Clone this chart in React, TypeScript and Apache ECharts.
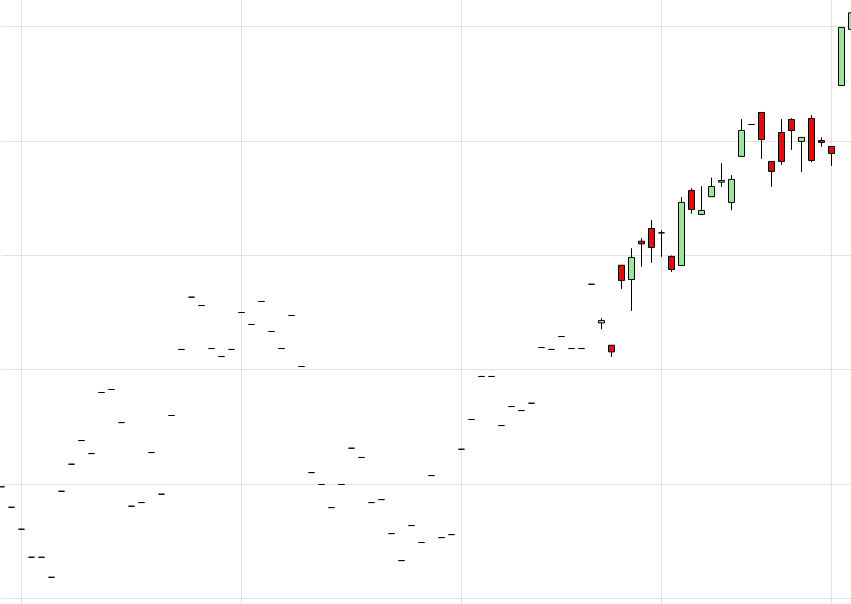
import React, { useEffect, useRef } from "react";
import * as echarts from "echarts";

// Flat (untraded) sessions: open = close = low = high
const flatPrices: number[] = [
  109.77, 107.98, 106.06, 103.61, 103.61, 101.86, 109.38, 111.74, 113.81, 112.67,
  118.01, 118.27, 115.38, 108.07, 108.39, 112.76, 109.12, 116.0, 121.77, 126.34,
  125.61, 121.85, 121.15, 121.77, 125.0, 123.95, 125.96, 123.34, 121.85, 124.74,
  120.28, 111.01, 109.97, 107.95, 109.97, 113.14, 112.33, 108.39, 108.65, 105.68,
  103.32, 106.38, 104.9, 110.75, 105.33, 105.59, 113.05, 115.65, 119.41, 119.41,
  115.12, 116.78, 116.43, 117.07, 121.94, 121.77, 122.9, 121.85, 121.85, 127.47,
];

// Traded sessions: open, close, low, high
const opens: number[] = [
  124.09, 122.14, 129.13, 127.88, 131.23, 132.34, 131.96, 129.9, 129.11, 135.66,
  133.57, 135.12, 136.39, 134.62, 138.64, 141.43, 142.48, 138.2, 140.73, 141.87,
  139.95, 141.96, 140.03, 139.51, 144.84, 149.74,
];
const closes: number[] = [
  124.3, 121.56, 127.8, 129.81, 131.0, 130.68, 131.96, 128.76, 134.62, 134.0,
  133.92, 136.01, 136.54, 136.63, 140.91, 141.43, 140.12, 137.33, 138.2, 140.91,
  140.3, 138.29, 139.86, 138.9, 149.91, 151.19,
];
const lows: number[] = [
  123.54, 121.12, 127.06, 125.14, 128.99, 129.34, 129.86, 128.55, 129.11, 133.64,
  133.57, 135.12, 135.98, 133.94, 138.64, 141.43, 138.43, 135.98, 137.9, 139.21,
  137.29, 138.14, 139.48, 137.81, 144.84, 149.74,
];
const highs: number[] = [
  124.5, 122.14, 129.13, 130.62, 131.49, 133.07, 132.19, 129.98, 135.08, 135.87,
  136.04, 136.78, 138.05, 137.0, 141.9, 141.43, 142.48, 138.2, 141.9, 141.98,
  140.3, 142.25, 140.32, 139.51, 149.91, 152.0,
];

// Vertical grid lines fall on these sessions
const gridSessions: number[] = [2, 24, 46, 66, 83];

const sessionCount = flatPrices.length + opens.length;
const categories: string[] = Array.from({ length: sessionCount }, (_, i) => String(i + 1));

export default function App() {
  const ref = useRef<HTMLDivElement>(null);

  useEffect(() => {
    document.body.style.margin = "0";
    document.body.style.overflow = "hidden";
    if (!ref.current) return;
    const chart = echarts.init(ref.current, undefined, { renderer: "svg" });

    const data: number[][] = [
      ...flatPrices.map((p) => [p, p, p, p]),
      ...opens.map((o, i) => [o, closes[i], lows[i], highs[i]]),
    ];

    chart.setOption({
      animation: false,
      backgroundColor: "#ffffff",
      grid: { left: 1.5, right: 0.5, top: 0, bottom: 0, containLabel: false },
      xAxis: {
        type: "category",
        data: categories,
        boundaryGap: false,
        axisLine: { show: false },
        axisTick: { show: false },
        axisLabel: { show: false },
        splitLine: {
          show: true,
          interval: (index: number) => gridSessions.includes(index),
          lineStyle: { color: "#e2e2e2", width: 1 },
        },
      },
      yAxis: {
        type: "value",
        min: 90,
        max: 160,
        interval: 10,
        axisLine: { show: false },
        axisTick: { show: false },
        axisLabel: { show: false },
        splitLine: { show: true, lineStyle: { color: "#e2e2e2", width: 1 } },
      },
      series: [
        {
          type: "candlestick",
          data,
          barWidth: 6,
          clip: false,
          itemStyle: {
            color: "#90ee90",
            color0: "#ff0000",
            borderColor: "#000000",
            borderColor0: "#000000",
            borderColorDoji: "#000000",
            borderWidth: 1,
          },
        },
      ],
    });

    return () => chart.dispose();
  }, []);

  return (
    <div
      ref={ref}
      style={{ position: "fixed", left: 0, top: -88.1, width: 852, height: 800.8 }}
    />
  );
}
